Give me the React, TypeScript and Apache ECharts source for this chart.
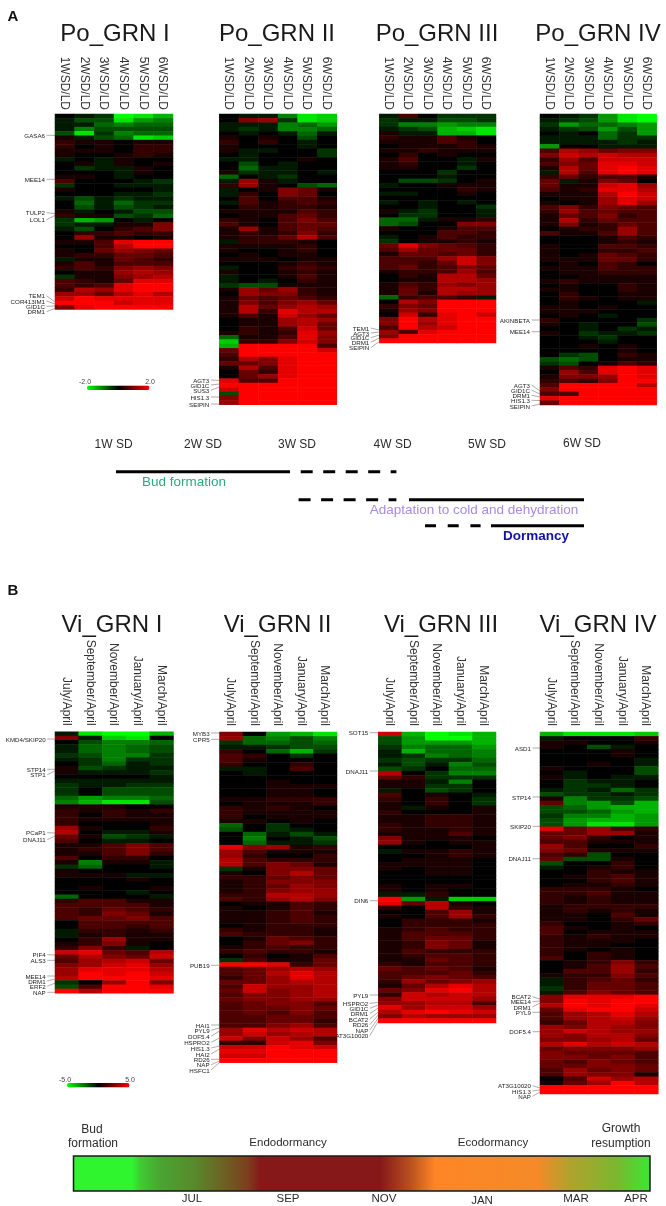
import React, { useEffect, useRef } from "react";
import * as echarts from "echarts";

const poColumns = ["1WSD/LD", "2WSD/LD", "3WSD/LD", "4WSD/LD", "5WSD/LD", "6WSD/LD"];
const viColumns = ["July/April", "September/April", "November/April", "January/April", "March/April"];

const poGrn1 = [
[0,-1,-2,-10,-9,-7],[-1,-3,-3,-9,-6,-5],[-1,-1,-4,-5,-4,-4],[-1,-5,-3,-3,-3,-3],[-3,-9,-2,-5,-4,-4],[1,-1,-3,-4,-9,-8],
[2,1,1,0,1,1],[2,0,1,0,2,2],[1,1,1,0,2,2],[1,0,0,1,2,1],[-1,0,-1,1,0,0],[0,1,-1,1,0,1],[0,-2,-1,-1,1,0],[0,0,0,-1,1,0],
[1,1,0,-1,0,0],[3,0,0,0,-1,-2],[-2,0,0,-1,-1,-1],[1,0,0,0,0,-1],[0,0,0,-1,-1,-2],[-1,-3,-1,-2,-1,-1],[0,-4,-1,-4,-2,-2],
[0,-3,-1,-3,-2,-1],[1,-1,0,-1,-3,-3],[2,1,1,-3,-2,-4],[-2,-7,-6,0,-1,0],[-2,-1,-1,1,1,5],[-1,-3,0,2,3,5],[0,2,2,3,2,2],
[0,6,1,1,0,1],[1,1,3,9,10,10],[0,0,3,7,10,10],[1,0,4,6,5,4],[1,2,2,4,4,3],[-1,1,1,4,3,2],[1,3,1,3,3,3],[2,3,2,5,6,5],
[0,1,1,6,7,6],[-2,1,1,5,6,7],[3,2,1,4,9,9],[3,2,3,9,10,10],[2,7,6,9,10,10],[6,6,4,7,9,7],[8,10,9,9,9,9],[10,10,10,8,9,9],[5,9,10,10,10,10],
];
const poGrn2 = [
[0,-1,-1,-5,-9,-8],[0,5,6,-2,-9,-8],[-1,-1,-1,-5,-4,-6],[-1,-2,-1,-5,-5,-4],[0,-1,0,-1,-4,-1],[1,0,1,0,-3,0],[2,0,2,0,-1,0],
[1,0,0,0,-1,0],[1,-1,-1,0,0,-2],[0,-1,0,0,0,-2],[-1,-1,0,0,1,0],[0,-3,0,-1,0,0],[0,-4,-1,-1,0,0],[1,-2,-1,-1,0,-1],
[-4,0,-1,-2,0,0],[-1,6,1,-1,0,0],[2,6,1,0,-3,-4],[-1,0,1,5,4,1],[-1,2,0,5,4,0],[0,3,0,3,3,1],[-1,3,1,2,3,2],[0,2,1,2,2,1],
[1,1,1,1,3,2],[0,1,1,3,4,2],[2,1,0,3,5,3],[3,1,0,3,4,4],[1,6,1,3,4,3],[1,2,1,2,5,2],[1,2,2,4,7,3],[-1,2,2,2,1,0],[1,1,1,1,2,0],
[1,0,0,1,2,0],[0,1,0,1,1,0],[1,1,1,0,1,1],[0,0,0,1,2,1],[-1,0,0,2,3,2],[1,0,0,1,2,1],[-1,0,0,1,3,1],[-1,0,-1,0,2,1],[-2,-3,-3,1,1,1],
[1,6,4,6,2,1],[0,6,5,5,2,1],[1,4,3,4,3,2],[1,5,3,5,6,4],[1,7,4,6,7,6],[1,7,2,9,7,7],[1,3,1,8,6,4],[0,1,1,6,7,6],[0,1,1,6,7,4],
[0,2,1,3,8,4],[1,2,1,2,9,6],[-4,1,1,3,9,5],[-8,2,2,5,8,5],[-7,10,10,10,10,3],[4,10,10,10,10,8],[3,10,10,10,10,10],[2,7,5,9,10,10],
[4,4,5,9,10,10],[1,7,3,9,10,10],[0,4,2,9,10,10],[0,4,6,9,10,10],[9,3,3,10,10,10],[10,10,10,10,10,10],[8,10,10,10,10,10],
[-3,10,10,10,10,10],[5,10,10,10,10,10],[6,10,10,10,10,10],
];
const poGrn3 = [
[-1,3,0,-2,-2,-2],[-2,-1,-1,-3,-3,-2],[-2,-5,-5,-6,-5,-5],[-1,-2,-3,-7,-8,-9],[1,-1,-1,-7,-7,-9],[2,1,1,3,1,0],[1,1,1,3,2,0],
[0,1,1,1,2,1],[1,1,2,1,1,1],[0,2,0,1,0,0],[1,3,0,0,-1,1],[1,2,0,0,-1,0],[1,1,0,0,-2,0],[0,0,0,-2,0,0],[0,0,0,-1,0,0],[0,-3,-3,-2,0,1],
[-1,0,0,1,1,1],[0,0,0,0,2,1],[-1,-1,0,0,1,0],[0,0,0,0,0,0],[-1,0,-1,0,-1,0],[0,0,-1,0,0,-2],[1,-1,-2,0,0,-1],[0,-2,-2,0,0,-1],
[-4,-4,-1,1,1,2],[-4,-3,0,0,5,5],[1,0,0,1,3,3],[0,0,0,3,3,2],[-1,0,1,3,2,2],[-2,0,1,1,2,1],[4,9,5,4,3,2],[3,6,4,4,4,2],[1,4,4,3,4,2],
[3,3,3,6,8,5],[3,3,2,4,8,5],[3,4,2,3,5,4],[1,2,2,3,6,3],[0,2,1,7,7,4],[0,1,1,7,7,6],[1,3,2,6,5,6],[1,4,2,7,7,6],[1,4,1,7,6,6],
[-4,2,3,3,2,-1],[0,7,5,10,10,10],[2,5,4,10,10,10],[1,6,5,10,10,10],[0,8,2,9,10,8],[5,10,7,9,10,10],[5,10,6,9,10,10],[3,10,7,8,10,10],
[6,3,9,10,10,10],[5,10,10,10,10,10],[10,10,10,10,10,10],
];
const poGrn4 = [
[0,-1,-2,-6,-9,-10],[-1,-2,-3,-6,-9,-10],[-2,-6,-4,-4,-5,-6],[-1,-2,-3,-6,-3,-6],[0,-1,0,-4,-2,-6],[-1,-1,-1,-4,-2,-2],[-1,-1,-1,-1,-2,-1],
[-6,0,0,-1,-1,-1],[3,7,6,4,5,5],[5,8,7,8,7,7],[2,6,3,8,8,8],[3,5,4,9,9,8],[1,7,4,9,10,9],[-1,7,3,9,10,9],[2,4,2,3,3,1],[4,-1,1,5,4,0],
[4,1,1,8,9,6],[3,1,2,9,9,7],[1,1,1,7,10,8],[0,1,1,6,9,8],[1,0,1,6,9,6],[3,5,2,5,4,3],[2,6,3,4,3,3],[1,4,3,5,2,3],[1,7,2,4,3,3],
[1,5,1,2,4,3],[0,1,2,2,6,3],[3,1,1,3,6,3],[0,0,0,1,3,2],[0,0,0,1,2,1],[1,0,0,3,3,2],[1,0,0,2,2,3],[1,0,1,4,3,2],[1,1,1,4,4,2],
[0,1,0,3,2,0],[1,1,1,3,2,2],[0,1,1,2,2,2],[0,0,1,1,1,1],[1,2,1,1,1,1],[0,1,0,0,2,1],[1,1,0,0,2,1],[0,2,0,0,1,1],[0,2,1,0,1,1],
[0,1,0,0,0,-1],[1,1,0,1,0,0],[1,1,1,0,0,0],[0,1,0,-1,0,0],[2,0,0,0,0,-2],[1,0,-1,0,0,-3],[0,0,-1,0,-2,-1],[1,0,-2,-1,-1,-2],
[0,0,-1,-2,0,0],[0,0,0,-1,0,0],[0,0,1,0,1,0],[0,0,0,0,1,0],[0,-2,-3,0,2,1],[-3,-4,-3,0,1,1],[-2,-3,0,1,3,2],[1,3,2,9,10,9],
[0,6,3,9,10,9],[1,5,5,6,10,9],[2,3,2,5,10,10],[3,10,10,10,10,7],[5,10,10,10,10,10],[3,3,10,10,10,10],[9,10,10,10,10,10],[4,10,10,10,10,10],
];
const viGrn1 = [
[-1,-9,-10,-10,-7],[5,-1,-8,-9,0],[0,-3,-5,-5,-4],[-1,-4,-5,-4,-3],[-1,-4,-5,-4,-3],[-2,-3,-5,-5,-2],[-1,-2,-5,-2,-2],[0,-2,-4,-1,-2],
[1,-3,-2,-1,-1],[1,-1,-1,-1,-2],[0,0,0,0,-1],[-1,-1,-1,-1,-1],[-2,-1,-1,-2,-2],[-2,0,-3,-3,-3],[-2,0,-3,-3,-3],[-4,-6,-5,-5,-4],
[-5,-7,-9,-9,-3],[1,1,1,0,0],[2,1,2,1,2],[2,0,2,1,1],[2,1,1,1,1],[2,0,0,0,1],[6,1,0,0,2],[7,0,-1,-1,1],[4,1,-3,-2,-1],[3,0,-1,-1,0],
[1,1,3,5,3],[1,2,3,5,3],[1,1,3,5,2],[3,0,2,2,0],[1,-5,1,1,-1],[-2,-4,0,0,-1],[1,0,0,0,0],[1,1,1,-1,-1],[0,0,0,1,0],[0,0,0,0,0],
[0,1,0,0,1],[0,0,0,-1,0],[-4,0,0,0,-1],[2,3,3,1,1],[3,3,3,3,1],[3,2,4,3,2],[3,2,5,4,1],[3,4,4,5,3],[0,3,3,3,3],[0,3,3,2,3],[-1,2,2,1,2],
[-1,1,2,1,1],[0,2,6,1,1],[1,2,5,1,0],[2,5,2,-1,0],[8,9,4,3,7],[4,7,5,4,8],[3,6,7,8,4],[5,6,8,9,6],[6,9,9,9,7],[6,10,9,10,8],[7,10,10,10,9],
[-2,0,6,10,5],[-3,3,10,10,9],[10,7,10,10,10],
];
const viGrn2 = [
[5,0,-6,-7,-9],[6,-4,-5,-3,-5],[-2,-4,-4,-3,-4],[-1,-1,-2,-3,-3],[2,0,-4,-7,-2],[3,2,0,-2,0],[3,1,0,0,0],[2,0,0,2,0],[-1,-1,0,3,0],
[0,-1,0,0,0],[0,0,0,0,0],[0,0,1,0,0],[0,0,1,1,1],[0,0,1,1,0],[0,0,1,1,0],[1,1,2,2,2],[0,1,1,1,2],[2,1,2,1,0],[2,1,1,1,1],[2,0,1,1,1],
[1,1,0,1,0],[-4,0,-2,0,0],[-3,0,-2,-1,0],[0,-4,-1,-3,-1],[0,-5,0,-1,-3],[0,-4,-1,-1,-2],[9,5,6,1,2],[6,3,1,1,1],[6,2,0,0,2],[7,3,2,2,2],
[7,3,5,4,1],[-2,1,5,5,4],[1,0,5,7,4],[2,2,4,5,4],[1,2,5,5,5],[1,2,4,6,5],[1,2,5,6,6],[2,2,7,7,6],[3,2,6,7,5],[0,1,1,3,2],[1,0,1,3,2],
[1,1,2,3,1],[1,1,2,3,2],[1,1,2,3,2],[0,1,2,2,2],[2,1,2,2,1],[3,2,2,2,1],[0,1,4,3,2],[0,2,4,5,2],[1,2,3,2,2],[2,3,2,2,1],[0,2,0,1,3],
[-2,3,1,1,4],[10,10,9,2,4],[3,4,6,7,6],[3,4,7,9,7],[2,4,6,9,7],[4,4,6,7,7],[3,8,6,6,7],[4,8,5,6,7],[3,5,5,6,7],[4,5,5,6,6],[3,4,5,5,3],
[3,4,4,5,4],[3,4,3,5,3],[3,3,4,4,3],[3,3,4,4,2],[3,3,5,6,3],[6,9,7,8,7],[6,8,6,7,7],[8,5,8,6,3],[2,2,8,9,5],[8,8,10,9,8],[9,9,10,10,10],
[8,8,10,10,10],[10,10,10,10,10],
];
const viGrn3 = [
[8,-7,-10,-9,-7],[-3,-6,-10,-10,-7],[-3,-6,-6,-6,-7],[-2,-5,-4,-4,-6],[-1,-7,-4,-4,-5],[-1,-2,-5,-4,-5],[-2,-3,-2,-2,-4],[-1,-3,-1,-5,-3],
[-3,-2,0,-4,-4],[7,0,-2,-5,-5],[4,2,-2,-2,-2],[1,1,-1,-5,0],[1,1,-2,-2,0],[-1,0,-3,-2,0],[3,0,1,0,-1],[2,0,2,0,-2],[1,0,2,0,-2],[1,-1,1,0,1],
[2,0,0,0,1],[1,1,2,2,1],[1,1,2,2,1],[2,1,2,2,1],[2,1,1,2,1],[1,1,1,3,1],[5,1,1,1,0],[6,1,0,1,1],[0,0,0,0,1],[-1,1,1,2,1],[0,0,1,2,1],
[0,1,1,1,0],[1,1,1,1,0],[1,0,1,1,0],[0,0,1,1,0],[0,0,0,0,0],[0,0,0,0,0],[1,0,1,1,0],[1,0,1,0,0],[-1,-1,2,0,0],[10,-6,-1,-8,-8],[9,4,7,1,0],
[2,0,7,2,1],[0,0,3,6,1],[1,0,3,6,2],[0,2,2,2,1],[0,2,2,2,2],[1,2,3,2,2],[1,3,3,3,2],[1,3,4,4,2],[1,2,5,4,1],[1,2,5,4,1],[1,3,2,2,2],
[1,2,3,3,2],[1,1,4,3,2],[2,1,3,3,2],[4,3,4,3,1],[3,3,3,4,2],[3,4,5,4,3],[2,6,4,5,6],[1,4,7,9,7],[4,5,9,10,7],[2,8,7,8,7],[5,8,8,8,6],
[6,6,7,7,3],[9,6,8,8,6],[7,9,10,9,8],[5,7,6,6,6],[10,10,10,10,10],
];
const viGrn4 = [
[-7,-9,-9,-9,-8],[-1,0,0,0,2],[1,1,0,0,1],[1,0,-3,-1,0],[0,0,0,1,0],[0,0,0,1,0],[0,0,0,0,-1],[0,0,1,0,-1],[1,0,0,0,-3],[0,-1,0,0,-3],
[1,-1,0,-1,-1],[0,-2,-1,-1,0],[0,-2,-2,-1,0],[-1,-2,-1,-4,-2],[-3,-2,-2,-1,-2],[1,-5,-2,-2,-3],[4,-5,-6,-3,-7],[-3,-4,-6,-7,-7],[-3,-3,-4,-6,-7],
[-2,-5,-5,-7,-6],[-3,-6,-7,-7,-6],[-3,-6,-9,-9,-6],[9,4,6,3,2],[4,4,6,6,1],[4,5,2,0,1],[3,3,1,1,1],[6,3,0,0,2],[5,4,1,1,1],[3,2,-3,0,0],
[4,-3,-3,1,0],[-3,0,0,2,0],[-1,0,1,2,0],[0,0,2,1,1],[0,1,2,3,1],[0,0,2,3,1],[0,1,1,2,1],[2,2,2,1,0],[2,2,3,1,1],[2,1,2,1,1],[2,1,2,1,1],
[1,2,2,2,2],[1,2,1,2,1],[1,1,0,3,1],[1,1,0,2,4],[2,0,0,1,2],[3,1,0,1,0],[3,0,1,1,1],[2,1,2,1,1],[2,1,1,1,0],[2,1,1,0,0],[2,1,0,1,0],
[2,0,2,1,0],[3,0,2,1,0],[0,1,2,5,2],[0,1,3,6,3],[0,3,3,6,2],[1,2,2,5,3],[-1,2,3,4,2],[-1,2,4,4,3],[-2,2,4,4,3],[-1,3,5,4,3],[5,9,9,9,10],
[5,10,9,10,10],[7,10,9,10,9],[4,9,10,10,8],[3,6,7,9,7],[3,6,7,8,6],[2,4,7,7,5],[6,5,7,6,5],[6,8,7,6,6],[6,5,7,7,5],[5,5,6,7,4],[7,9,7,8,7],
[4,5,5,5,6],[5,4,4,4,3],[5,5,4,5,3],[4,3,5,4,3],[4,4,5,5,4],[3,6,4,5,4],[3,6,5,5,1],[0,3,8,6,7],[1,4,6,10,7],[10,10,10,10,10],[10,10,10,10,10],
];

const panelTitles = ["Po_GRN I", "Po_GRN II", "Po_GRN III", "Po_GRN IV", "Vi_GRN I", "Vi_GRN II", "Vi_GRN III", "Vi_GRN IV"];
const panelRows = [poGrn1, poGrn2, poGrn3, poGrn4, viGrn1, viGrn2, viGrn3, viGrn4];

const genes = [
  ["GASA6", "MEE14", "TULP2", "LOL1", "TEM1", "COR413IM1", "GID1C", "DRM1"],
  ["AGT3", "GID1C", "SUS3", "HIS1.3", "SEIPIN"],
  ["TEM1", "AGT3", "GID1C", "DRM1", "SEIPIN"],
  ["AKINBETA", "MEE14", "AGT3", "GID1C", "DRM1", "HIS1.3", "SEIPIN"],
  ["KMD4/SKIP20", "STP14", "STP1", "PCaP1", "DNAJ11", "PIF4", "ALS3", "MEE14", "DRM1", "ERF2", "NAP"],
  ["MYB3", "CPR5", "PUB19", "HAI1", "PYL9", "DOF5.4", "HSPRO2", "HIS1.3", "HAI2", "RD26", "NAP", "HSFC1"],
  ["SOT15", "DNAJ11", "DIN6", "PYL9", "HSPRO2", "GID1C", "DRM1", "BCAT2", "RD26", "NAP", "AT3G10020"],
  ["ASD1", "STP14", "SKIP20", "DNAJ11", "BCAT2", "MEE14", "DRM1", "PYL9", "DOF5.4", "AT3G10020", "HIS1.3", "NAP"],
];

const weekLabels = ["1W SD", "2W SD", "3W SD", "4W SD", "5W SD", "6W SD"];
const monthLabels = ["JUL", "SEP", "NOV", "JAN", "MAR", "APR"];

// ---- layout (page pixels), separate from the data ----
const FONT = '"Liberation Sans", Arial, sans-serif';
const panelBoxes = [
  [55, 114, 118, 195.5], [219.3, 114, 117.5, 290.7], [379.3, 114, 116.7, 229], [540, 114, 116.7, 291],
  [55, 731.7, 118.5, 261.6], [219.5, 732, 117.5, 330.7], [378.3, 732, 117.7, 291], [540, 732, 118.3, 362],
];
const titleX = [115, 277, 437, 598, 112, 277.5, 441, 598];
const geneTextRight = [45, 209.3, 369.3, 530, 45.7, 209.6, 368.3, 531];
const geneTextY = [
  [135.3, 179.3, 212.7, 219.7, 295.7, 301, 306.3, 311.7],
  [380, 385, 390.3, 397, 404],
  [328, 333, 337.7, 342.3, 347.7],
  [320, 331.7, 385, 390, 395.3, 400.3, 406],
  [739, 769.3, 774.7, 832.7, 839.7, 954.7, 960.3, 976, 981, 986.3, 992.3],
  [733, 739.3, 965.3, 1025, 1030.3, 1036.3, 1042.3, 1048, 1054, 1059.3, 1064.7, 1070],
  [732.7, 771, 900.7, 995, 1003.3, 1008.3, 1013.7, 1019, 1024.7, 1030, 1035.7],
  [748, 797, 826.3, 858.7, 996.7, 1001.7, 1007, 1012.3, 1031.7, 1085.7, 1091, 1096.3],
];
const geneLineEndY = [
  [135.3, 179.3, 213.5, 215.5, 302, 304, 306, 308.5],
  [380.5, 384, 387, 397, 404],
  [330, 332, 335, 338, 341.5],
  [320, 331.7, 391, 394, 397, 400.5, 404],
  [739, 769.3, 771, 833, 836, 955, 960.3, 976, 979, 983, 992.3],
  [733, 739.3, 965.3, 1025, 1028, 1031, 1038, 1046, 1049, 1059.3, 1061, 1062.5],
  [732.7, 771, 900.7, 995, 1002.5, 1005, 1008, 1012, 1015, 1018, 1021],
  [748, 797, 826.3, 858.7, 999, 1001, 1003, 1012.3, 1031.7, 1088, 1090, 1092],
];

const heatColors = ["#00ff00", "#000000", "#ff0000"];
const PO_FULL_SCALE = 2;
const VI_FULL_SCALE = 5;

function txt(text: string, x: number, y: number, size: number, extra: any = {}) {
  const { align = "center", fill = "#2b2b2b", weight = "normal" } = extra;
  return {
    type: "text",
    x,
    y,
    silent: true,
    style: {
      text,
      fontSize: size,
      fontFamily: FONT,
      fontWeight: weight,
      fill,
      align,
      textAlign: align,
      verticalAlign: "middle",
      textVerticalAlign: "middle",
    },
  };
}

function seg(x1: number, y1: number, x2: number, y2: number, width: number, stroke: string, dash?: number[]) {
  return {
    type: "line",
    silent: true,
    shape: { x1, y1, x2, y2 },
    style: { stroke, lineWidth: width, lineDash: dash },
  };
}

function buildOption() {
  const grids: any[] = [];
  const xAxes: any[] = [];
  const yAxes: any[] = [];
  const series: any[] = [];
  panelRows.forEach((rows, p) => {
    const [left, top, width, height] = panelBoxes[p];
    const isPo = p < 4;
    const cols = isPo ? poColumns : viColumns;
    const unit = (isPo ? PO_FULL_SCALE : VI_FULL_SCALE) / 10;
    grids.push({ left, top, width, height });
    xAxes.push({
      type: "category",
      gridIndex: p,
      position: "top",
      data: cols,
      axisLine: { show: false },
      axisTick: { show: false },
      splitLine: { show: false },
      axisLabel: { interval: 0, rotate: 90, margin: isPo ? 4 : 6, fontSize: 12, fontFamily: FONT, color: "#333" },
    });
    yAxes.push({
      type: "category",
      gridIndex: p,
      inverse: true,
      show: false,
      data: rows.map((_, i) => String(i)),
    });
    const data: number[][] = [];
    rows.forEach((row, r) => row.forEach((v, c) => data.push([c, r, v * unit])));
    series.push({
      type: "heatmap",
      name: panelTitles[p],
      xAxisIndex: p,
      yAxisIndex: p,
      data,
      silent: true,
      itemStyle: { borderWidth: 0 },
      emphasis: { disabled: true },
    });
  });

  const g: any[] = [];
  g.push(txt("A", 13, 15, 15, { weight: "bold", fill: "#111" }));
  g.push(txt("B", 13, 589, 15, { weight: "bold", fill: "#111" }));

  panelTitles.forEach((t, p) => {
    g.push(txt(t, titleX[p], p < 4 ? 32 : 623, 24, { fill: "#1a1a1a" }));
    const left = panelBoxes[p][0];
    genes[p].forEach((name, i) => {
      const y = geneTextY[p][i];
      g.push(txt(name, geneTextRight[p], y, 6.2, { align: "right", fill: "#222" }));
      g.push(seg(geneTextRight[p] + 1.5, y, left, geneLineEndY[p][i], 0.6, "#777"));
    });
  });

  // colour key captions
  g.push(txt("-2.0", 85, 381.5, 7, { fill: "#444" }));
  g.push(txt("2.0", 150, 381.5, 7, { fill: "#444" }));
  g.push(txt("-5.0", 65, 1079.5, 7, { fill: "#444" }));
  g.push(txt("5.0", 130, 1079.5, 7, { fill: "#444" }));

  // timeline of panel A
  const weekX = [113.6, 203, 297, 392.6, 487, 582];
  const weekY = [444, 444, 444, 444, 444, 443];
  weekLabels.forEach((w, i) => g.push(txt(w, weekX[i], weekY[i], 12)));
  g.push(seg(116, 471.7, 290, 471.7, 3, "#000"));
  g.push(seg(300.7, 471.7, 396.4, 471.7, 3, "#000", [12, 10.5]));
  g.push(seg(298.6, 499.7, 396.4, 499.7, 3, "#000", [12, 10.5]));
  g.push(seg(409, 499.7, 584, 499.7, 3, "#000"));
  g.push(seg(425, 525.7, 480.6, 525.7, 3, "#000", [11, 11.7]));
  g.push(seg(491, 525.7, 584, 525.7, 3, "#000"));
  g.push(txt("Bud formation", 184, 481, 13.5, { fill: "#2baa80" }));
  g.push(txt("Adaptation to cold and dehydration", 474, 509, 13.5, { fill: "#a98be0" }));
  g.push(txt("Dormancy", 536, 535, 13.5, { fill: "#1212a8", weight: "bold" }));

  // seasonal bar of panel B
  g.push({
    type: "rect",
    silent: true,
    shape: { x: 73.5, y: 1156, width: 576.5, height: 35 },
    style: {
      stroke: "#1a1a1a",
      lineWidth: 1.5,
      fill: new echarts.graphic.LinearGradient(0, 0, 1, 0, [
        { offset: 0, color: "#2ef52e" },
        { offset: 0.102, color: "#2ef52e" },
        { offset: 0.116, color: "#3fcb33" },
        { offset: 0.151, color: "#4aa432" },
        { offset: 0.208, color: "#588a2c" },
        { offset: 0.267, color: "#6f5c22" },
        { offset: 0.302, color: "#7c3f1d" },
        { offset: 0.324, color: "#86181a" },
        { offset: 0.532, color: "#86181a" },
        { offset: 0.584, color: "#b8501f" },
        { offset: 0.627, color: "#fe8526" },
        { offset: 0.804, color: "#f58a27" },
        { offset: 0.861, color: "#b0a22d" },
        { offset: 0.943, color: "#7ab82f" },
        { offset: 1, color: "#3ce632" },
      ]),
    },
  });
  g.push(txt("Bud", 92, 1129, 12));
  g.push(txt("formation", 93, 1143, 12));
  g.push(txt("Endodormancy", 288, 1142, 11.5));
  g.push(txt("Ecodormancy", 493, 1142, 11.5));
  g.push(txt("Growth", 621, 1128, 12));
  g.push(txt("resumption", 621, 1143, 12));
  const monthX = [192, 288, 384, 482, 576, 636];
  const monthY = [1198, 1198, 1198, 1200, 1198, 1198];
  monthLabels.forEach((m, i) => g.push(txt(m, monthX[i], monthY[i], 11.5)));

  const key = (min: number, max: number, idx: number[], left: number, top: number) => ({
    type: "continuous",
    min,
    max,
    seriesIndex: idx,
    orient: "horizontal",
    left,
    top,
    padding: 0,
    itemWidth: 4.5,
    itemHeight: 62.5,
    calculable: false,
    realtime: false,
    hoverLink: false,
    showLabel: false,
    text: ["", ""],
    inRange: { color: heatColors },
  });

  return {
    animation: false,
    backgroundColor: "#ffffff",
    grid: grids,
    xAxis: xAxes,
    yAxis: yAxes,
    series,
    visualMap: [
      key(-PO_FULL_SCALE, PO_FULL_SCALE, [0, 1, 2, 3], 87, 385.5),
      key(-VI_FULL_SCALE, VI_FULL_SCALE, [4, 5, 6, 7], 67, 1083),
    ],
    graphic: { elements: g },
  };
}

export default function App() {
  const ref = useRef<HTMLDivElement>(null);
  useEffect(() => {
    const chart = echarts.init(ref.current!, undefined, { renderer: "svg" });
    chart.setOption(buildOption() as any);
    return () => chart.dispose();
  }, []);
  return (
    <div
      ref={ref}
      style={{ position: "absolute", left: 0, top: 0, width: 666, height: 1206, filter: "blur(0.45px)" }}
    />
  );
}
